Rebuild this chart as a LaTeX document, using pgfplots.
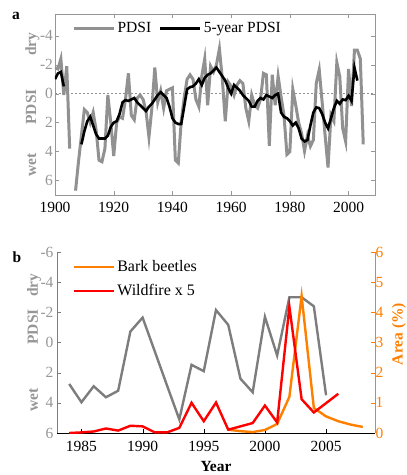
\documentclass[border=0pt]{standalone}
\usepackage{fontspec}
\setmainfont{Liberation Serif}
\usepackage{pgfplots}
\pgfplotsset{compat=1.18}

\definecolor{pgray}{RGB}{145,145,145}
\definecolor{pgrayb}{RGB}{125,125,125}
\definecolor{lblgray}{RGB}{150,150,150}
\definecolor{borange}{RGB}{255,128,0}
\definecolor{fred}{RGB}{255,0,0}

\newcommand{\fs}{\fontsize{15.5}{18}\selectfont}

\pgfplotsset{
  every axis/.append style={
    scale only axis,
    anchor=south west,
    /pgf/number format/assume math mode=true,
    /pgf/number format/1000 sep={},
    tick align=inside,
    major tick length=4pt,
    font=\fs,
    legend cell align=left,
    legend image code/.code={\draw[#1] (0pt,0pt) -- (40pt,0pt);},
  },
}

% panel a: yearly PDSI and 5-year mean
\pgfplotstableread{
year pdsi
1900 -1.8
1901 -1.7
1902 -2.4
1903 0.1
1904 -1.9
1905 3.8
1906 nan
1907 6.7
1908 4.7
1909 2.9
1910 1.1
1911 1.3
1912 2.0
1913 1.3
1914 2.5
1915 4.6
1916 4.7
1917 3.8
1918 0.1
1919 2.0
1920 4.3
1921 2.0
1922 1.6
1923 1.7
1924 0.4
1925 -1.4
1926 1.5
1927 1.8
1928 0.3
1929 0.1
1930 0.4
1931 1.2
1932 3.0
1933 1.0
1934 -1.8
1935 0.6
1936 -0.2
1937 1.0
1938 -0.2
1939 -0.3
1940 -0.4
1941 4.6
1942 4.8
1943 1.9
1944 0.3
1945 -1.0
1946 -1.3
1947 -1.0
1948 0.4
1949 0.9
1950 -1.2
1951 -2.4
1952 0.8
1953 -1.9
1954 -1.5
1955 -2.0
1956 -3.1
1957 -1.0
1958 1.9
1959 -0.8
1960 -0.5
1961 0.1
1962 -0.6
1963 -0.9
1964 -0.7
1965 1.0
1966 1.9
1967 0.1
1968 0.8
1969 1.0
1970 0.4
1971 -1.4
1972 -1.3
1973 3.6
1974 -1.3
1975 0.8
1976 -1.2
1977 0.2
1978 1.5
1979 4.2
1980 4.0
1981 -0.3
1982 0.8
1983 2.0
1984 2.75
1985 3.96
1986 2.9
1987 3.63
1988 3.2
1989 -0.73
1990 -1.65
1991 0.6
1992 2.86
1993 5.1
1994 1.48
1995 1.9
1996 -2.15
1997 -1.17
1998 2.4
1999 3.3
2000 -1.7
2001 0.86
2002 -3.0
2003 -3.0
2004 -2.4
2005 3.5
}\pdsiyear

\pgfplotstableread{
year pdsi
1900 -1.0
1901 -1.4
1902 -1.5
1903 -0.5
1904 nan
1909 3.5
1910 2.6
1911 1.9
1912 1.6
1913 2.2
1914 2.8
1915 3.1
1916 3.1
1917 3.1
1918 2.9
1919 2.3
1920 2.0
1921 1.9
1922 1.4
1923 0.6
1924 0.45
1925 0.5
1926 0.4
1927 0.3
1928 0.6
1929 0.8
1930 1.0
1931 1.2
1932 0.9
1933 0.7
1934 0.4
1935 0.1
1936 -0.1
1937 0.1
1938 0.3
1939 0.9
1940 1.7
1941 2.0
1942 2.1
1943 2.1
1944 0.9
1945 -0.3
1946 -0.45
1947 -0.5
1948 -0.7
1949 -1.0
1950 -0.6
1951 -1.1
1952 -1.3
1953 -1.4
1954 -1.6
1955 -1.8
1956 -1.5
1957 -1.2
1958 -0.9
1959 -0.4
1960 0.0
1961 -0.6
1962 -0.4
1963 -0.2
1964 0.1
1965 0.3
1966 0.5
1967 0.9
1968 0.9
1969 0.5
1970 0.3
1971 0.4
1972 0.1
1973 0.2
1974 0.3
1975 0.1
1976 0.0
1977 1.3
1978 1.6
1979 1.7
1980 1.9
1981 2.2
1982 2.0
1983 2.4
1984 3.1
1985 3.3
1986 3.2
1987 2.2
1988 1.3
1989 0.95
1990 1.0
1991 1.4
1992 2.0
1993 2.4
1994 1.7
1995 1.0
1996 0.5
1997 0.7
1998 0.4
1999 0.45
2000 0.15
2001 0.5
2002 -1.8
2003 -0.9
}\pdsifive

% panel b
\pgfplotstableread{
year pdsi
1984 2.75
1985 3.96
1986 2.9
1987 3.63
1988 3.2
1989 -0.73
1990 -1.65
1991 0.6
1992 2.86
1993 5.1
1994 1.48
1995 1.9
1996 -2.15
1997 -1.17
1998 2.4
1999 3.3
2000 -1.7
2001 0.86
2002 -3.0
2003 -3.0
2004 -2.4
2005 3.5
}\pdsib

\pgfplotstableread{
year area
1997 0.11
1998 0.06
1999 0.03
2000 0.1
2001 0.3
2002 1.2
2003 4.54
2004 0.83
2005 0.55
2006 0.39
2007 0.28
2008 0.2
}\beetles

\pgfplotstableread{
year area
1984 0.0
1985 0.02
1986 0.05
1987 0.15
1988 0.08
1989 0.24
1990 0.22
1991 0.02
1992 0.02
1993 0.17
1994 1.0
1995 0.39
1996 1.01
1997 0.11
1998 0.22
1999 0.33
2000 0.91
2001 0.35
2002 4.19
2003 1.12
2004 0.68
2005 0.99
2006 1.3
}\fire

\begin{document}
\begin{tikzpicture}
% ---- panel a ----
\begin{axis}[
  at={(55pt,280pt)},
  width=320pt, height=181pt,
  xmin=1900, xmax=2009,
  ymin=-5.5, ymax=7,
  y dir=reverse,
  xtick={1900,1920,...,2000},
  ytick={-4,-2,...,6},
  tick pos=both,
  axis line style={lblgray},
  tick style={lblgray},
  yticklabel style={lblgray, xshift=1.5pt},
  xticklabel style={black, yshift=-4pt},
  unbounded coords=jump,
  legend columns=2,
  legend style={at={(0.045,0.92)}, anchor=west, draw=none, fill=none,
    font=\fs, /tikz/every even column/.append style={column sep=6pt}},
]
\addplot[pgray, line width=0.8pt, dashed, dash pattern=on 2pt off 2pt, forget plot]
  coordinates {(1900,0) (2009,0)};
\addplot[pgray, line width=3pt] table[x=year, y=pdsi] {\pdsiyear};
\addplot[black, line width=2.6pt] table[x=year, y=pdsi] {\pdsifive};
\legend{PDSI, 5-year PDSI}
\end{axis}

% ---- panel b, left axis ----
\begin{axis}[
  at={(57pt,42pt)},
  width=318pt, height=181pt,
  xmin=1983, xmax=2009,
  ymin=-6, ymax=6,
  y dir=reverse,
  axis y line*=left,
  axis x line=none,
  ytick={-6,-4,...,6},
  axis line style={pgrayb},
  tick style={pgrayb},
  yticklabel style={lblgray},
]
\addplot[pgrayb, line width=2.4pt] table[x=year, y=pdsi] {\pdsib};
\end{axis}

% ---- panel b, right axis ----
\begin{axis}[
  at={(57pt,42pt)},
  width=318pt, height=181pt,
  xmin=1983, xmax=2009,
  ymin=0, ymax=6,
  axis y line*=right,
  axis x line*=bottom,
  xtick={1985,1990,...,2005},
  ytick={0,1,...,6},
  x axis line style={black, -},
  y axis line style={borange, -},
  xtick style={black},
  ytick style={borange},
  yticklabel style={borange, xshift=-3pt},
  xticklabel style={black, yshift=-5pt},
  legend style={at={(0.04,0.975)}, anchor=north west, draw=none, fill=none,
    font=\fontsize{16}{18}\selectfont, row sep=7pt},
]
\addplot[borange, line width=2.4pt] table[x=year, y=area] {\beetles};
\addplot[fred, line width=2.4pt] table[x=year, y=area] {\fire};
\legend{Bark beetles, Wildfire x 5}
\end{axis}

% ---- labels ----
\node[font=\fs\bfseries] at (16pt,459pt) {a};
\node[font=\fs\bfseries, lblgray, rotate=90, anchor=base] at (36pt,431pt) {dry};
\node[font=\fs\bfseries, lblgray, rotate=90, anchor=base] at (36pt,368pt) {PDSI};
\node[font=\fs\bfseries, lblgray, rotate=90, anchor=base] at (36pt,310pt) {wet};

\node[font=\fs\bfseries] at (17pt,218pt) {b};
\node[font=\fs\bfseries, lblgray, rotate=90, anchor=base] at (38pt,190pt) {dry};
\node[font=\fs\bfseries, lblgray, rotate=90, anchor=base] at (38pt,148pt) {PDSI};
\node[font=\fs\bfseries, lblgray, rotate=90, anchor=base] at (38pt,75pt) {wet};

\node[font=\fs\bfseries, anchor=base] at (216pt,3pt) {Year};
\node[font=\fs\bfseries, borange, rotate=90, anchor=south, inner sep=0pt] at (406pt,141pt) {Area (\%)};

\pgfresetboundingbox
\path[use as bounding box] (0pt,0pt) rectangle (407pt,475pt);
\end{tikzpicture}
\end{document}
